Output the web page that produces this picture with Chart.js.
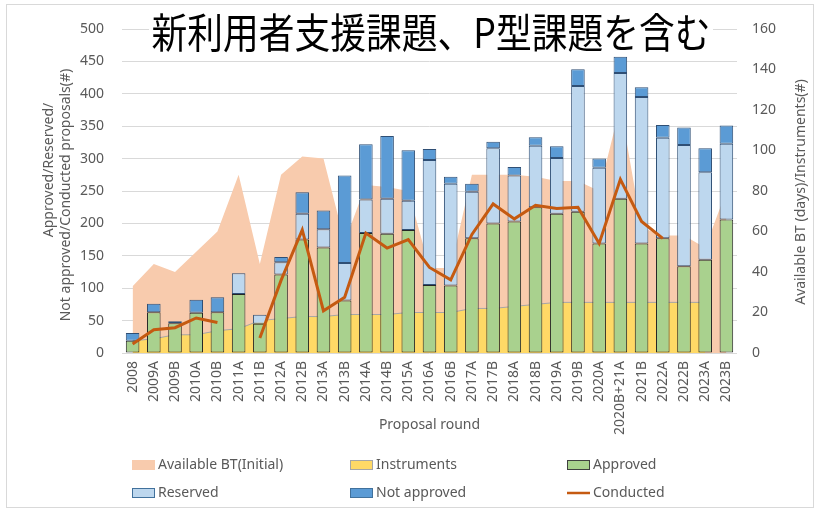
<!DOCTYPE html>
<html>
<head>
<meta charset="utf-8">
<script src="https://cdn.jsdelivr.net/npm/chart.js@4.4.1/dist/chart.umd.min.js"></script>
<style>
  html, body { margin: 0; padding: 0; background: #fff; }
  #wrap { width: 819px; height: 510px; }
</style>
</head>
<body>
<div id="wrap"><canvas id="chart" width="819" height="510"></canvas></div>
<script>
// proposal rounds (x axis)
const rounds = ['2008', '2009A', '2009B', '2010A', '2010B', '2011A', '2011B', '2012A', '2012B', '2013A',
  '2013B', '2014A', '2014B', '2015A', '2016A', '2016B', '2017A', '2017B', '2018A', '2018B',
  '2019A', '2019B', '2020A', '2020B+21A', '2021B', '2022A', '2022B', '2023A', '2023B'];

// right axis: days / instruments
const availableBT = [33, 44, 40, 50, 60, 88, 44, 88, 97, 96, 55, 83, 82, 80, 42, 42, 88, 88, 88, 87,
  85, 85, 80, 122, 62, 58, 58, 52, 80];
const instruments = [6, 7, 9, 9, 11, 12, 16, 17, 18, 18, 19, 19, 19, 20, 20, 20, 22, 22, 23, 24,
  25, 25, 25, 25, 25, 25, 25, 25, null];

// left axis: proposals
const approved = [19, 63, 46, 62, 63, 91, 45, 121, 175, 163, 81, 185, 184, 190, 105, 104, 177, 200, 203, 225,
  215, 218, 169, 238, 169, 177, 134, 144, 206];
const reserved = [0, 0, 0, 0, 0, 32, 14, 19, 40, 28, 58, 52, 54, 45, 193, 157, 72, 116, 71, 95,
  86, 194, 117, 194, 226, 155, 187, 135, 117];
const notApproved = [12, 13, 3, 20, 23, 0, 0, 8, 33, 29, 135, 85, 97, 78, 17, 11, 12, 10, 13, 13,
  18, 26, 14, 25, 15, 20, 27, 37, 28];
const conducted = [14, 36, 39, 54, 47, null, 23, 112, 190, 65, 86, 185, 162, 175, 132, 113, 183, 230, 207, 228,
  223, 225, 169, 268, 203, 177, null, null, null];

const chartTitle = '新利用者支援課題、P型課題を含む';
const leftTitle = ['Approved/Reserved/', 'Not approved/Conducted proposals(#)'];
const rightTitle = 'Available BT (days)/Instruments(#)';

const GRAY = '#595959';
Chart.defaults.font.family = "'Noto Sans', sans-serif";
Chart.defaults.font.size = 14;
Chart.defaults.color = GRAY;

// title, axis titles, legend and frame are drawn here (Excel style layout)
const decorations = {
  id: 'decorations',
  afterDraw(chart) {
    const ctx = chart.ctx;
    ctx.save();

    // outer frame
    ctx.strokeStyle = '#d9d9d9';
    ctx.lineWidth = 1;
    ctx.strokeRect(6.5, 4.5, 807, 503);

    // big title on a white box
    ctx.fillStyle = '#fff';
    ctx.fillRect(149, 10, 564, 44);
    ctx.font = "41px 'Noto Sans CJK JP'";
    const w = ctx.measureText(chartTitle).width;
    ctx.save();
    ctx.translate(431, 32);
    ctx.scale(559 / w, 1);
    ctx.fillStyle = '#000';
    ctx.textAlign = 'center';
    ctx.textBaseline = 'middle';
    ctx.fillText(chartTitle, 0, 0);
    ctx.restore();

    // axis titles
    ctx.font = "14px 'Noto Sans'";
    ctx.fillStyle = GRAY;
    ctx.textAlign = 'center';
    ctx.textBaseline = 'middle';
    [[49, 170], [66, 195]].forEach((p, i) => {
      ctx.save();
      ctx.translate(p[0], p[1]);
      ctx.rotate(-Math.PI / 2);
      ctx.fillText(leftTitle[i], 0, 0);
      ctx.restore();
    });
    ctx.save();
    ctx.translate(801, 192);
    ctx.rotate(-Math.PI / 2);
    ctx.fillText(rightTitle, 0, 0);
    ctx.restore();

    // legend, 3 columns x 2 rows
    const cols = [132, 350, 567];
    const rows = [465, 493];
    chart.data.datasets.forEach((ds, i) => {
      const x = cols[i % 3];
      const y = rows[Math.floor(i / 3)];
      if (ds.type === 'line' && !ds.fill) {
        ctx.strokeStyle = ds.borderColor;
        ctx.lineWidth = 2.5;
        ctx.beginPath();
        ctx.moveTo(x, y);
        ctx.lineTo(x + 23, y);
        ctx.stroke();
      } else {
        ctx.fillStyle = ds.backgroundColor;
        ctx.fillRect(x, y - 5, 23, 10);
        if (ds.legendBorder) {
          ctx.strokeStyle = ds.legendBorder;
          ctx.lineWidth = 1;
          ctx.strokeRect(x + 0.5, y - 4.5, 22, 9);
        }
      }
      ctx.fillStyle = GRAY;
      ctx.textAlign = 'left';
      ctx.textBaseline = 'middle';
      ctx.fillText(ds.label, x + 26, y);
    });
    ctx.restore();
  }
};

const barStyle = {
  type: 'bar',
  yAxisID: 'y',
  stack: 'proposals',
  order: 1,
  borderWidth: 1,
  borderSkipped: false,
  categoryPercentage: 1,
  barPercentage: 0.64
};

new Chart(document.getElementById('chart'), {
  data: {
    labels: rounds,
    datasets: [
      {
        type: 'line', label: 'Available BT(Initial)', data: availableBT, yAxisID: 'y2', order: 4,
        fill: 'origin', backgroundColor: '#f8cbad', borderWidth: 0, pointRadius: 0
      },
      {
        type: 'line', label: 'Instruments', data: instruments, yAxisID: 'y2', order: 3,
        fill: 'origin', backgroundColor: '#ffd966', borderColor: '#a6a6a6', borderWidth: 1, pointRadius: 0,
        legendBorder: '#a6a6a6'
      },
      Object.assign({ label: 'Approved', data: approved, backgroundColor: '#a9d18e', borderColor: '#262626',
        legendBorder: '#404040' }, barStyle),
      Object.assign({ label: 'Reserved', data: reserved, backgroundColor: '#bdd7ee', borderColor: '#2f4f75',
        legendBorder: '#41719c' }, barStyle),
      Object.assign({ label: 'Not approved', data: notApproved, backgroundColor: '#5b9bd5', borderColor: '#2f4f75',
        legendBorder: '#41719c' }, barStyle),
      {
        type: 'line', label: 'Conducted', data: conducted, yAxisID: 'y', stack: 'conducted', order: 0,
        fill: false, borderColor: '#c55a11', backgroundColor: '#c55a11', borderWidth: 3, pointRadius: 0,
        spanGaps: false
      }
    ]
  },
  options: {
    responsive: false,
    animation: false,
    layout: { padding: { left: 0, right: 0, top: 29, bottom: 75 } },
    plugins: {
      legend: { display: false },
      tooltip: { enabled: false }
    },
    scales: {
      x: {
        type: 'category',
        offset: true,
        stacked: true,
        grid: { display: false, drawTicks: false },
        border: { display: false },
        ticks: { autoSkip: false, minRotation: 90, maxRotation: 90, padding: 8, color: GRAY },
        title: { display: true, text: 'Proposal round', color: GRAY, padding: { top: 0, bottom: 2 } },
        afterFit(scale) { scale.height = 82; }
      },
      y: {
        position: 'left',
        stacked: true,
        min: 0, max: 500,
        ticks: { stepSize: 50, padding: 18, color: GRAY },
        grid: { color: '#d9d9d9', drawTicks: false },
        border: { display: false },
        afterFit(scale) { scale.width = 122; }
      },
      y2: {
        position: 'right',
        stacked: false,
        min: 0, max: 160,
        ticks: { stepSize: 20, padding: 15, color: GRAY },
        grid: { display: false, drawTicks: false },
        border: { display: false },
        afterFit(scale) { scale.width = 82; }
      }
    }
  },
  plugins: [decorations]
});
</script>
</body>
</html>
